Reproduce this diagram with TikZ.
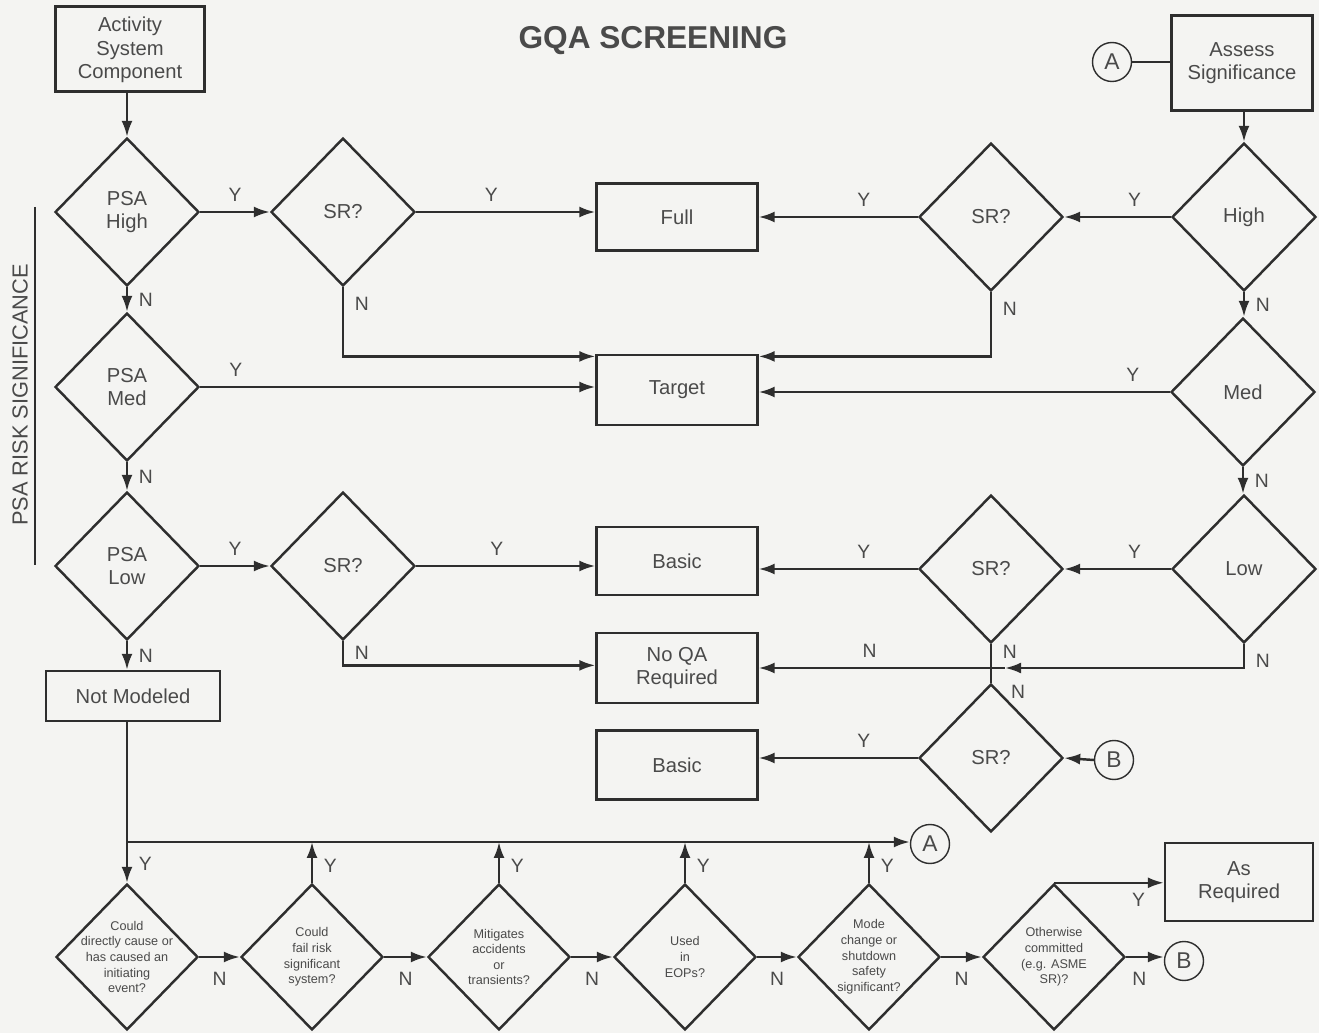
\documentclass[tikz,border=0pt]{standalone}
\usepackage{fontspec}
\setmainfont{Liberation Sans}
\usetikzlibrary{shapes.geometric,arrows.meta,calc}
\definecolor{lc}{HTML}{2E2E2E}
\definecolor{tx}{HTML}{4A4A4A}
\definecolor{bg}{HTML}{F4F4F2}
\begin{document}
\begin{tikzpicture}[x=0.02cm,y=-0.02cm,
  every node/.style={text=tx},
  base/.style={draw=lc, line width=1.4pt, align=center, inner sep=0pt},
  box/.style={base, rectangle, font=\fontsize{11.5}{13.3}\selectfont},
  dia/.style={base, diamond, minimum width=2.88cm, minimum height=2.96cm, font=\fontsize{11.5}{13.3}\selectfont},
  sdia/.style={base, diamond, minimum width=2.84cm, minimum height=2.92cm},
  stxt/.style={align=center, inner sep=0pt, font=\fontsize{7.2}{8.9}\selectfont},
  conn/.style={base, circle, line width=0.8pt, minimum size=0.78cm, font=\fontsize{13}{15}\selectfont},
  wire/.style={draw=lc, line width=1.4pt},
  arr/.style={wire, -{Latex[length=0.32cm,width=0.22cm]}},
  lab/.style={font=\fontsize{11}{13}\selectfont, inner sep=1pt, text=tx},
]
\fill[bg] (0,0) rectangle (1319,1033);
\useasboundingbox (0,0) rectangle (1319,1033);

% title and side label
\node[font=\bfseries\fontsize{18}{20}\selectfont] (title) at (653,41) {GQA SCREENING};
\node[rotate=90, font=\fontsize{12.4}{14}\selectfont] (side) at (20,395) {PSA RISK SIGNIFICANCE};
\coordinate (s1) at (35,207);
\coordinate (s2) at (35,565);
\draw[wire, line width=0.9pt] (s1) -- (s2);

% left column
\node[box, minimum width=2.98cm, minimum height=1.70cm] (act) at (130,49) {\strut Activity\\System\\Component};
\node[dia] (psah) at (127,212) {PSA\\High};
\node[dia] (psam) at (127,387) {PSA\\Med};
\node[dia] (psal) at (127,566) {PSA\\Low};
\node[box, minimum width=3.48cm, minimum height=1.0cm] (notm) at (133,696) {Not Modeled};

% left SR diamonds
\node[dia] (sr1) at (343,212) {SR?};
\node[dia] (sr2) at (343,566) {SR?};

% middle boxes
\node[box, minimum width=3.22cm, minimum height=1.34cm] (full) at (677,217) {Full};
\node[box, minimum width=3.22cm, minimum height=1.40cm] (target) at (677,390) {Target};
\node[box, minimum width=3.22cm, minimum height=1.36cm] (basic) at (677,561) {Basic};
\node[box, minimum width=3.22cm, minimum height=1.40cm] (noqa) at (677,668) {No QA\\Required};
\node[box, minimum width=3.22cm, minimum height=1.38cm] (basic2) at (677,765) {Basic};

% right column
\node[box, minimum width=2.82cm, minimum height=1.90cm] (assess) at (1242,63) {Assess\\Significance};
\node[conn] (A1) at (1112,62) {A};
\node[dia] (high) at (1244,217) {High};
\node[dia] (med) at (1243,392) {Med};
\node[dia] (low) at (1244,569) {Low};
\node[dia] (srr1) at (991,217) {SR?};
\node[dia] (srr2) at (991,569) {SR?};
\node[dia] (srr3) at (991,758) {SR?};
\node[conn] (B1) at (1114,760) {B};

% bottom row
\node[sdia, label={[stxt]center:Could\\directly cause or\\has caused an\\initiating\\event?}] (d1) at (127,957) {};
\node[sdia, label={[stxt]center:Could\\fail risk\\significant\\system?}] (d2) at (312,957) {};
\node[sdia, label={[stxt]center:Mitigates\\accidents\\or\\transients?}] (d3) at (499,957) {};
\node[sdia, label={[stxt]center:Used\\in\\EOPs?}] (d4) at (685,957) {};
\node[sdia, label={[stxt]center:Mode\\change or\\shutdown\\safety\\significant?}] (d5) at (869,957) {};
\node[sdia, label={[stxt]center:Otherwise\\committed\\(e.g. ASME\\SR)?}] (d6) at (1054,957) {};
\node[conn] (A2) at (930,844) {A};
\node[conn] (B2) at (1184,961) {B};
\node[box, minimum width=2.96cm, minimum height=1.56cm] (asreq) at (1239,882) {As\\Required};

% connectors: left column
\draw[arr] (act.south -| psah.north) -- (psah.north);
\draw[arr] (psah.east) -- node[lab, midway, above=4pt] {Y} (sr1.west);
\draw[arr] (sr1.east) -- node[lab, pos=0.42, above=4pt] {Y} (sr1.east -| full.west);
\draw[arr] (sr1.south) |- node[lab, pos=0.12, right=5pt] {N} ([yshift=-1.5pt]target.north west);
\draw[arr] (psah.south) -- node[lab, midway, right=5pt] {N} (psam.north);
\draw[arr] (psam.east) -- node[lab, pos=0.09, above=4pt] {Y} (psam.east -| target.west);
\draw[arr] (psam.south) -- node[lab, midway, right=5pt] {N} (psal.north);
\draw[arr] (psal.east) -- node[lab, midway, above=4pt] {Y} (sr2.west);
\draw[arr] (sr2.east) -- node[lab, pos=0.45, above=4pt] {Y} (sr2.east -| basic.west);
\draw[arr] (sr2.south) |- node[lab, pos=0.24, right=5pt] {N} ([yshift=1.5pt]noqa.west);
\draw[arr] (psal.south) -- node[lab, midway, right=5pt] {N} (psal.south |- notm.north);

% connectors: right column
\draw[wire] (A1.east) -- (assess.west |- A1.east);
\draw[arr] (high.north |- assess.south) -- (high.north);
\draw[arr] (high.west) -- node[lab, pos=0.34, above=4pt] {Y} (srr1.east);
\draw[arr] (srr1.west) -- node[lab, pos=0.34, above=4pt] {Y} (srr1.west -| full.east);
\draw[arr] (srr1.south) |- node[lab, pos=0.13, right=5pt] {N} ([yshift=-1.5pt]target.north east);
\draw[arr] (high.south) -- node[lab, midway, right=5pt] {N} (high.south |- med.north);
\draw[arr] (med.west) -- node[lab, pos=0.09, above=4pt] {Y} (med.west -| target.east);
\draw[arr] (med.south) -- node[lab, midway, right=5pt] {N} (med.south |- low.north);
\draw[arr] (low.west) -- node[lab, pos=0.34, above=4pt] {Y} (srr2.east);
\draw[arr] (srr2.west) -- node[lab, pos=0.34, above=4pt] {Y} (srr2.west -| basic.east);
\coordinate (cross) at (srr2.south |- noqa.east);
\coordinate (crossr) at ([xshift=8pt]cross);
\draw[arr] (low.south) |- node[lab, pos=0.36, right=5pt] {N} (crossr);
\draw[arr] (crossr) -- node[lab, pos=0.55, above=4pt] {N} (noqa.east);
\draw[wire] (srr2.south) -- node[lab, pos=0.2, right=5pt] {N} (srr3.north);
\node[lab, anchor=west] (nlab) at (1009,692) {N};
\draw[arr] (B1.west) -- (srr3.east);
\draw[arr] (srr3.west) -- node[lab, pos=0.34, above=4pt] {Y} (srr3.west -| basic2.east);

% connectors: bottom row
\coordinate (jA) at (d1.north |- 0,842);
\draw[arr] (d1.north |- notm.south) -- node[lab, pos=0.88, right=5pt] {Y} (d1.north);
\draw[arr] (jA) -- (jA -| A2.west);
\foreach \d in {d2,d3,d4,d5}{
  \draw[arr] (\d.north) -- node[lab, pos=0.42, right=5pt] {Y} (\d.north |- jA);
}
\draw[arr] (d1.east) -- node[lab, midway, below=7pt] {N} (d2.west);
\draw[arr] (d2.east) -- node[lab, midway, below=7pt] {N} (d3.west);
\draw[arr] (d3.east) -- node[lab, midway, below=7pt] {N} (d4.west);
\draw[arr] (d4.east) -- node[lab, midway, below=7pt] {N} (d5.west);
\draw[arr] (d5.east) -- node[lab, midway, below=7pt] {N} (d6.west);
\draw[arr] (d6.north) -- node[lab, pos=0.77, below=4pt] {Y} (d6.north -| asreq.west);
\draw[arr] (d6.east) -- node[lab, pos=0.35, below=7pt] {N} (d6.east -| B2.west);
\end{tikzpicture}
\end{document}
